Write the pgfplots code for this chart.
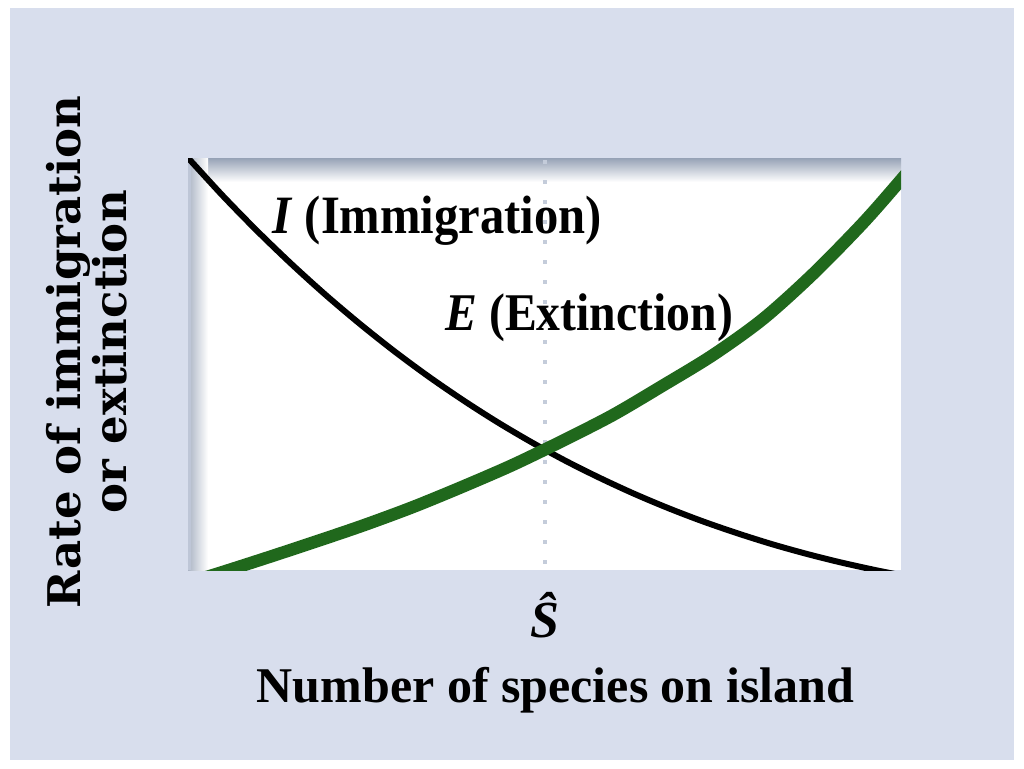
\documentclass[border=0pt]{standalone}
\usepackage{fontspec}
\setmainfont{Liberation Serif}
\newfontfamily\labfont{Liberation Serif}[FakeStretch=0.9]
\newfontfamily\slab{DejaVu Serif}
\usepackage{pgfplots}
\pgfplotsset{compat=1.18}
\definecolor{bgblue}{RGB}{216,222,237}
\definecolor{shadow}{RGB}{150,162,182}
\definecolor{dotc}{RGB}{196,204,218}
\definecolor{egreen}{RGB}{32,104,28}
\begin{document}
\begin{tikzpicture}
\begin{scope}[x=0.5pt,y=0.5pt]
\useasboundingbox (0,0) rectangle (1024,768);
\fill[white] (0,0) rectangle (1024,768);
\fill[bgblue] (10,8) rectangle (1014,760);
% plot area
\fill[white] (188,198) rectangle (901,610);
\shade[top color=shadow, bottom color=white] (188,586) rectangle (901,610);
\shade[left color=shadow!80, right color=white] (188,198) rectangle (208,610);
\fill[bgblue!60!shadow] (188,198) rectangle (191,610);
% dotted line
\draw[dotc, line width=2pt, dash pattern=on 2pt off 8pt] (545,608) -- (545,196);
\end{scope}
\begin{axis}[
  at={(94pt,99pt)}, anchor=south west,
  scale only axis, width=356.5pt, height=206pt,
  xmin=188, xmax=901, ymin=198, ymax=610,
  hide axis,
]
\addplot[black, line width=3pt, smooth] coordinates {
(180,618) (189,609) (223.3,571.7) (257.6,536.6) (291.9,503.6) (326.2,472.6) (360.5,443.6)
(394.8,416.4) (429.1,391.1) (463.4,367.6) (497.7,345.7) (532,325.5) (566.3,306.8)
(600.6,289.7) (634.9,273.9) (669.2,259.5) (703.5,246.4) (737.8,234.6) (772.1,223.8)
(806.4,214.2) (840.7,205.6) (875,198) (900,193)
};
\addplot[egreen, line width=6.2pt, smooth] coordinates {
(173,181) (213,193) (263,209) (313,225.5) (363,242.5) (413,261) (463,281.5)
(513,303.2) (563,327.4) (613,353) (663,382.5) (713,413) (763,449) (813,494)
(863,545) (900,587) (933,626)
};
\end{axis}
\begin{scope}[x=0.5pt,y=0.5pt]
\node[anchor=base west, inner sep=0, font=\fontsize{27}{30}\selectfont\labfont\bfseries] at (272,535) {\textit{I} (Immigration)};
\node[anchor=base west, inner sep=0, font=\fontsize{26.5}{30}\selectfont\labfont\bfseries] at (445,438) {\textit{E} (Extinction)};
\node[anchor=base, inner sep=0, font=\fontsize{26}{30}\selectfont\bfseries] at (545,131) {\textit{\^{S}}};
\node[anchor=base, inner sep=0, font=\fontsize{25}{28}\selectfont\bfseries] at (555.5,66) {Number of species on island};
\node[anchor=base, rotate=90, inner sep=0, font=\fontsize{22.5}{26}\selectfont\slab\bfseries] at (80,416) {Rate of immigration};
\node[anchor=base, rotate=90, inner sep=0, font=\fontsize{22.5}{26}\selectfont\slab\bfseries] at (127,416) {or extinction};
\end{scope}
\end{tikzpicture}
\end{document}
